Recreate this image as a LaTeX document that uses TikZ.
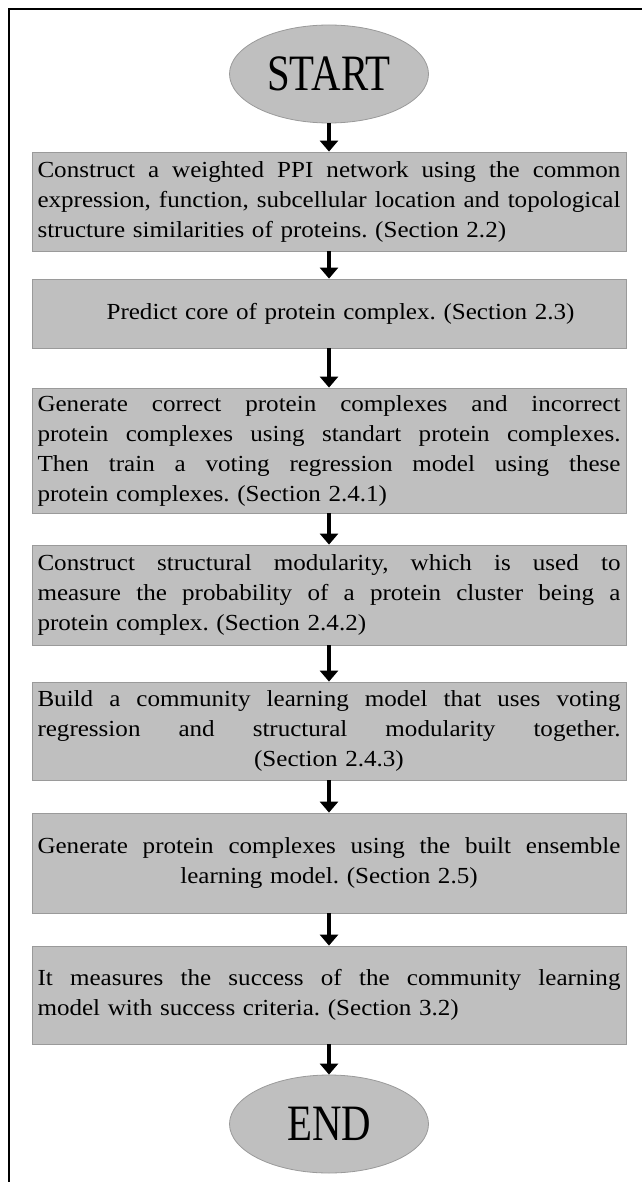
\documentclass[tikz,border=0pt]{standalone}
\usepackage{fontspec}
\setmainfont{Liberation Serif}[FakeStretch=1.09]
\newfontfamily\termfont{Liberation Serif}[FakeStretch=0.8]
\usetikzlibrary{shapes.geometric,arrows.meta}

\definecolor{boxfill}{HTML}{BFBFBF}
\definecolor{boxline}{HTML}{9A9A9A}

% one printed line of a step box: justified, centred or flush left
\newlength{\rowwd}
\setlength{\rowwd}{583pt}
\newcommand{\jrow}[1]{{\spaceskip=0pt\xspaceskip=0pt\makebox[\rowwd][s]{#1}}}
\newcommand{\crow}[1]{\makebox[\rowwd][c]{#1}}
\newcommand{\lrow}[1]{\makebox[\rowwd][l]{#1}}

\tikzset{
  terminal/.style={ellipse, draw=boxline, fill=boxfill, line width=0.8pt,
    minimum width=199pt, minimum height=98pt, inner sep=0pt,
    font=\termfont\fontsize{51}{56}\selectfont},
  stepbox/.style={rectangle, draw=boxline, fill=boxfill, line width=0.8pt,
    text width=583pt, inner xsep=5.5pt, inner ysep=0pt, align=left,
    minimum height=#1, font=\fontsize{23}{30}\selectfont\frenchspacing},
  flowarrow/.style={draw=black, line width=4pt,
    -{Triangle[width=18pt,length=11pt]}},
  frameline/.style={line width=2.2pt, line cap=rect}
}

\begin{document}
\begin{tikzpicture}[x=1pt, y=-1pt]
  \useasboundingbox (0,0) rectangle (641,1182);

  % page frame (top and left edges only)
  \draw[frameline] (641,9) -- (9,9) -- (9,1182);

  \node[terminal] (start) at (329,74) {START};

  \node[stepbox=99pt] (b1) at (329,201.5) {%
    \jrow{Construct a weighted PPI network using the common}\\
    \jrow{expression, function, subcellular location and topological}\\
    \lrow{structure similarities of proteins. (Section 2.2)}};

  \node[stepbox=69pt] (b2) at (329,313.5) {%
    \crow{\hspace*{23pt}Predict core of protein complex. (Section 2.3)}};

  \node[stepbox=125pt] (b3) at (329,450.5) {%
    \jrow{Generate correct protein complexes and incorrect}\\
    \jrow{protein complexes using standart protein complexes.}\\
    \jrow{Then train a voting regression model using these}\\
    \lrow{protein complexes. (Section 2.4.1)}};

  \node[stepbox=100pt] (b4) at (329,595) {%
    \jrow{Construct structural modularity, which is used to}\\
    \jrow{measure the probability of a protein cluster being a}\\
    \lrow{protein complex. (Section 2.4.2)}};

  \node[stepbox=98pt] (b5) at (329,731) {%
    \jrow{Build a community learning model that uses voting}\\
    \jrow{regression and structural modularity together.}\\
    \crow{(Section 2.4.3)}};

  \node[stepbox=100pt] (b6) at (329,863) {%
    \jrow{Generate protein complexes using the built ensemble}\\
    \crow{learning model. (Section 2.5)}};

  \node[stepbox=98pt] (b7) at (329,995) {%
    \jrow{It measures the success of the community learning}\\
    \lrow{model with success criteria. (Section 3.2)}};

  \node[terminal] (end) at (329,1124) {END};

  \draw[flowarrow] (start) -- (b1);
  \draw[flowarrow] (b1) -- (b2);
  \draw[flowarrow] (b2) -- (b3);
  \draw[flowarrow] (b3) -- (b4);
  \draw[flowarrow] (b4) -- (b5);
  \draw[flowarrow] (b5) -- (b6);
  \draw[flowarrow] (b6) -- (b7);
  \draw[flowarrow] (b7) -- (end);
\end{tikzpicture}
\end{document}
